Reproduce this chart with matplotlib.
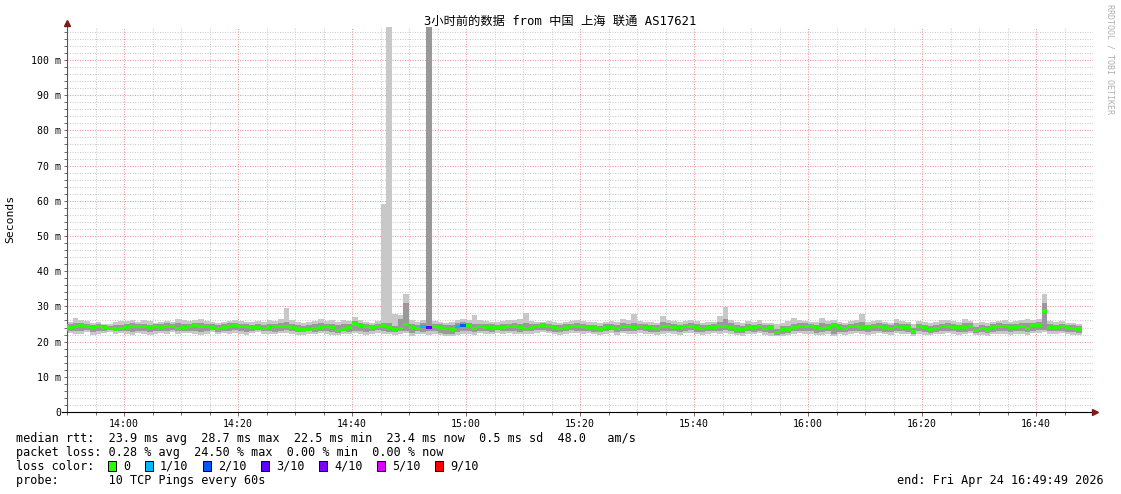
import numpy as np
import matplotlib
matplotlib.use("Agg")
import matplotlib.pyplot as plt
from matplotlib.patches import Rectangle

# 1-minute steps from 13:50 to ~16:48 (values in ms)
median = [
    24.0, 24.3, 24.5, 24.4, 24.1, 24.2, 23.9, 23.8, 23.6, 23.7,
    24.1, 24.4, 24.3, 24.2, 23.9, 24.3, 24.0, 24.4, 24.2, 23.8,
    24.0, 24.2, 24.5, 24.4, 24.3, 24.0, 23.7, 24.1, 24.3, 24.6,
    24.4, 24.2, 23.9, 24.1, 23.8, 24.0, 24.2, 24.3, 24.4, 24.1,
    23.6, 23.3, 23.5, 23.8, 24.0, 24.2, 23.9, 23.1, 23.6, 24.1,
    25.0, 24.6, 24.3, 23.9, 24.2, 24.6, 24.1, 23.4, 23.8, 24.9,
    24.0, 23.7, 24.2, 24.0, 24.3, 24.1, 23.8, 23.5, 24.3, 24.6,
    24.5, 23.8, 24.2, 24.0, 24.1, 23.9, 24.0, 24.2, 24.3, 24.0,
    23.8, 24.1, 24.3, 24.5, 24.2, 24.0, 23.7, 24.1, 24.3, 24.4,
    24.2, 24.0, 23.9, 23.6, 24.1, 24.0, 23.8, 24.4, 24.2, 24.0,
    24.3, 24.1, 24.0, 23.8, 24.2, 24.4, 24.1, 23.9, 24.2, 24.3,
    24.0, 23.7, 23.9, 24.0, 24.2, 24.4, 24.1, 23.6, 23.5, 24.1,
    24.0, 24.3, 23.7, 23.9, 22.5, 23.4, 23.6, 24.1, 24.3, 24.4,
    24.2, 24.0, 23.8, 24.1, 24.5, 24.0, 23.8, 24.2, 24.4, 24.1,
    23.9, 24.2, 24.3, 24.0, 23.7, 24.4, 24.1, 24.0, 22.9, 24.3,
    23.9, 23.4, 23.8, 24.2, 24.3, 24.1, 23.9, 24.0, 24.4, 23.2,
    23.8, 23.3, 24.0, 24.3, 24.2, 24.0, 24.1, 24.3, 23.7, 24.5,
    24.7, 28.7, 24.1, 24.0, 24.3, 24.0, 23.8, 23.6,
]
smoke_lo = [
    22.4, 22.1, 22.3, 22.6, 22.0, 22.2, 22.5, 22.7, 22.3, 22.4,
    22.2, 22.0, 22.4, 22.3, 21.8, 22.1, 22.5, 22.2, 22.6, 22.3,
    22.4, 22.5, 22.2, 22.0, 22.3, 22.6, 22.1, 22.4, 22.2, 22.5,
    22.3, 22.0, 22.4, 22.6, 22.2, 22.3, 22.1, 22.4, 22.5, 22.2,
    22.0, 21.9, 22.3, 22.1, 22.4, 22.2, 22.0, 21.8, 22.3, 22.1,
    22.4, 22.3, 22.0, 22.2, 22.5, 22.3, 22.1, 22.0, 22.2, 22.4,
    21.7, 22.3, 22.1, 22.0, 22.2, 21.8, 21.5, 21.6, 21.9, 22.3,
    22.2, 22.0, 22.4, 22.3, 22.1, 22.5, 22.2, 22.4, 22.3, 22.1,
    22.3, 22.2, 22.5, 22.6, 22.4, 22.1, 22.0, 22.3, 22.5, 22.4,
    22.2, 22.4, 22.1, 21.9, 22.3, 22.5, 22.0, 22.4, 22.2, 22.3,
    22.5, 22.3, 22.1, 21.9, 22.2, 22.4, 22.3, 22.0, 22.4, 22.5,
    22.1, 21.9, 22.2, 22.4, 22.3, 22.5, 22.2, 21.8, 21.7, 22.3,
    22.1, 22.4, 21.9, 21.6, 21.7, 21.5, 21.8, 22.2, 22.4, 22.3,
    22.2, 21.8, 21.9, 22.3, 21.5, 22.1, 22.0, 22.3, 22.4, 22.2,
    22.0, 22.3, 22.4, 22.1, 21.9, 22.4, 22.2, 22.1, 21.7, 22.3,
    22.0, 21.8, 22.1, 22.3, 22.4, 22.2, 22.0, 22.1, 22.4, 21.8,
    22.0, 21.7, 22.1, 22.3, 22.2, 22.0, 22.2, 22.3, 21.9, 22.4,
    22.5, 22.6, 22.3, 22.2, 22.4, 22.1, 21.9, 21.8,
]
smoke_hi = [
    25.6, 26.6, 26.2, 25.8, 25.4, 25.5, 25.0, 24.9, 25.6, 25.8,
    25.9, 26.0, 25.7, 26.1, 25.8, 25.4, 25.6, 25.9, 25.7, 26.3,
    26.0, 25.8, 26.2, 26.4, 25.9, 25.6, 25.3, 25.7, 25.9, 26.2,
    25.8, 25.5, 25.6, 25.9, 25.7, 26.0, 25.8, 26.3, 29.5, 26.0,
    25.6, 25.4, 25.5, 25.8, 26.3, 25.9, 26.0, 25.5, 26.2, 25.9,
    27.0, 26.0, 25.7, 25.3, 25.8, 59.0, 120.0, 27.8, 27.5, 33.5,
    26.0, 25.6, 26.2, 120.0, 25.9, 25.5, 25.3, 25.7, 26.1, 26.5,
    26.0, 27.5, 26.2, 25.8, 25.6, 25.5, 25.9, 26.0, 26.2, 26.4,
    28.1, 25.9, 25.7, 25.5, 25.8, 25.6, 25.4, 25.7, 25.9, 26.0,
    25.8, 25.6, 25.5, 25.2, 25.7, 25.9, 25.5, 26.3, 26.0, 27.8,
    25.8, 25.6, 25.5, 25.4, 27.3, 26.2, 25.8, 25.5, 25.9, 26.1,
    25.8, 25.4, 25.6, 25.7, 27.3, 29.8, 26.1, 25.6, 25.4, 25.9,
    25.6, 26.0, 25.4, 25.2, 24.9, 25.3, 25.8, 26.6, 26.0, 25.9,
    25.7, 25.5, 26.7, 25.9, 26.1, 25.6, 25.4, 25.8, 26.0, 27.8,
    25.7, 25.9, 26.1, 25.6, 25.3, 26.5, 25.8, 25.7, 25.0, 25.8,
    25.5, 25.3, 25.6, 26.0, 26.2, 25.9, 25.6, 26.3, 25.8, 25.4,
    25.6, 25.2, 25.7, 25.9, 26.0, 25.6, 25.8, 26.2, 26.4, 26.0,
    26.3, 33.5, 25.8, 25.5, 25.9, 25.4, 25.3, 25.1,
]
mid_lo = [
    23.0, 22.9, 23.1, 23.2, 22.8, 23.0, 23.1, 23.2, 22.9, 23.0,
    22.9, 22.8, 23.1, 23.0, 22.6, 22.9, 23.1, 23.0, 23.2, 22.9,
    23.0, 23.1, 22.9, 22.8, 23.0, 23.2, 22.8, 23.0, 22.9, 23.2,
    23.0, 22.8, 23.1, 23.2, 22.9, 23.0, 22.8, 23.1, 23.2, 22.9,
    22.7, 22.6, 23.0, 22.8, 23.1, 22.9, 22.7, 22.5, 23.0, 22.8,
    23.1, 23.0, 22.8, 22.9, 23.2, 23.0, 22.8, 22.7, 22.9, 23.1,
    22.5, 23.0, 22.8, 22.9, 22.9, 22.5, 22.3, 22.3, 22.6, 23.0,
    22.9, 22.7, 23.1, 23.0, 22.8, 23.2, 22.9, 23.1, 23.0, 22.8,
    23.0, 22.9, 23.2, 23.3, 23.1, 22.8, 22.7, 23.0, 23.2, 23.1,
    22.9, 23.1, 22.8, 22.6, 23.0, 23.2, 22.7, 23.1, 22.9, 23.0,
    23.2, 23.0, 22.8, 22.6, 22.9, 23.1, 23.0, 22.7, 23.1, 23.2,
    22.8, 22.6, 22.9, 23.1, 23.0, 23.2, 22.9, 22.5, 22.4, 23.0,
    22.8, 23.1, 22.6, 22.4, 22.0, 22.3, 22.5, 22.9, 23.1, 23.0,
    22.9, 22.5, 22.6, 23.0, 22.3, 22.8, 22.7, 23.0, 23.1, 22.9,
    22.7, 23.0, 23.1, 22.8, 22.6, 23.1, 22.9, 22.8, 22.3, 23.0,
    22.7, 22.5, 22.8, 23.0, 23.1, 22.9, 22.7, 22.8, 23.1, 22.5,
    22.7, 22.4, 22.8, 23.0, 22.9, 22.7, 22.9, 23.0, 22.6, 23.1,
    23.2, 23.3, 23.0, 22.9, 23.1, 22.8, 22.6, 22.5,
]
mid_hi = [
    24.9, 25.2, 25.3, 25.1, 24.8, 24.9, 24.6, 24.5, 24.6, 24.7,
    25.0, 25.2, 25.0, 25.1, 24.8, 25.0, 24.9, 25.2, 25.0, 25.3,
    25.1, 25.0, 25.3, 25.4, 25.1, 24.9, 24.7, 24.9, 25.2, 25.4,
    25.1, 24.9, 24.8, 25.0, 24.8, 25.1, 25.0, 25.2, 25.6, 25.0,
    24.7, 24.5, 24.6, 24.9, 25.2, 25.0, 25.1, 24.6, 25.0, 25.0,
    25.9, 25.3, 25.0, 24.8, 25.0, 25.4, 25.2, 24.5, 26.5, 31.0,
    24.9, 24.6, 25.2, 120.0, 25.1, 24.9, 24.7, 24.6, 25.3, 25.6,
    25.3, 24.9, 25.1, 24.9, 24.9, 24.8, 25.0, 25.1, 25.2, 24.9,
    25.3, 24.9, 25.1, 25.3, 25.0, 24.8, 24.6, 24.9, 25.1, 25.2,
    25.0, 24.8, 24.8, 24.5, 24.9, 25.0, 24.7, 25.3, 25.1, 25.2,
    25.1, 24.9, 24.8, 24.7, 25.5, 25.4, 25.0, 24.8, 25.1, 25.2,
    24.9, 24.6, 24.8, 25.0, 25.6, 26.5, 25.2, 24.6, 24.5, 24.9,
    24.8, 25.1, 24.6, 24.7, 23.6, 24.3, 24.5, 25.1, 25.2, 25.2,
    25.0, 24.8, 25.3, 24.9, 25.3, 24.9, 24.6, 25.0, 25.3, 25.6,
    24.8, 25.1, 25.2, 24.9, 24.6, 25.4, 25.0, 24.9, 24.0, 25.1,
    24.8, 24.4, 24.8, 25.1, 25.3, 25.0, 24.8, 25.2, 25.3, 24.2,
    24.7, 24.3, 24.9, 25.2, 25.1, 24.9, 25.0, 25.3, 25.3, 25.3,
    25.6, 31.0, 25.0, 24.8, 25.1, 24.8, 24.6, 24.4,
]
loss_steps = [62, 63, 68, 69]
loss_levels = [1, 3, 1, 2]

loss_labels = ["0", "1/10", "2/10", "3/10", "4/10", "5/10", "9/10"]
loss_colors = ["#26ff00", "#00b8ff", "#0059ff", "#5e00ff", "#7e00ff", "#dd00ff", "#ff0000"]
x_ticks = ["14:00", "14:20", "14:40", "15:00", "15:20", "15:40", "16:00", "16:20", "16:40"]
y_ticks = [0, 10, 20, 30, 40, 50, 60, 70, 80, 90, 100]

W, H = 1121, 494
MONO = "DejaVu Sans Mono"


def fx(px):
    return px / W


def fy(py):
    return 1 - py / H


fig = plt.figure(figsize=(W / 100, H / 100), dpi=100)
ax = fig.add_axes([fx(67), fy(412), fx(1093 - 67), (412 - 27) / H])
ymax = (412 - 27) / 3.52
ax.set_xlim(0, 180)
ax.set_ylim(0, ymax)

# grid
for v in np.arange(2, ymax, 2):
    major = abs(v % 10) < 1e-6
    ax.axhline(v, color="#e89a9a" if major else "#cccccc", lw=0.75,
               ls=(0, (1, 1.4)), zorder=0)
for m in range(5, 180, 5):
    major = (m - 10) % 20 == 0
    ax.axvline(m, color="#e89a9a" if major else "#cccccc", lw=0.75,
               ls=(0, (1, 1.4)), zorder=0)

n = len(median)
edges = np.arange(n + 1)
med = np.array(median)
ax.stairs(smoke_hi, edges, baseline=smoke_lo, fill=True, color="#c8c8c8", lw=0, zorder=2)
ax.stairs(mid_hi, edges, baseline=mid_lo, fill=True, color="#999999", lw=0, zorder=3)

cols = [loss_colors[0]] * n
for s, lv in zip(loss_steps, loss_levels):
    cols[s] = loss_colors[lv]
ax.bar(np.arange(n), 0.9, bottom=med - 0.45, width=1, align="edge",
       color=cols, lw=0, antialiased=False, zorder=4)

# axes styling
for s in ["top", "right"]:
    ax.spines[s].set_visible(False)
ax.spines["left"].set_color("#555555")
ax.spines["left"].set_linewidth(0.8)
ax.spines["bottom"].set_color("black")
ax.spines["bottom"].set_linewidth(0.8)

ax.set_yticks(y_ticks)
ax.set_yticklabels([f"{v} m" if v else "0" for v in y_ticks], fontsize=7.1, family=MONO)
ax.set_yticks(np.arange(0, ymax, 2), minor=True)
ax.set_xticks(np.arange(10, 180, 20))
ax.set_xticklabels(x_ticks, fontsize=7.1, family=MONO)
ax.set_xticks(np.arange(0, 180, 5), minor=True)
ax.tick_params(which="both", direction="out", length=2, width=0.6, color="#555555", pad=2)
ax.tick_params(axis="x", which="major", length=3)

# axis arrows
fig.add_artist(plt.Line2D([fx(67)], [fy(23)], marker="^", ms=4, color="#7f1a1a"))
fig.add_artist(plt.Line2D([fx(1095)], [fy(412)], marker=">", ms=4, color="#7f1a1a"))
fig.add_artist(plt.Line2D([fx(62), fx(67)], [fy(412), fy(412)], color="black", lw=0.8))

fig.text(fx(560), fy(21), "3小时前的数据 from 中国 上海 联通 AS17621", ha="center", va="center",
         fontsize=8.8, family=[MONO, "Noto Sans CJK SC"])
fig.text(fx(10), fy(219), "Seconds", rotation=90, ha="center", va="center",
         fontsize=8.2, family=MONO)
fig.text(fx(1110), fy(4), "RRDTOOL / TOBI OETIKER", rotation=270, ha="center", va="top",
         fontsize=6, family=MONO, color="#b0b0b0")

fs = 8.5
fig.text(fx(16), fy(438), "median rtt:  23.9 ms avg  28.7 ms max  22.5 ms min  23.4 ms now  0.5 ms sd  48.0   am/s",
         fontsize=fs, family=MONO, va="center")
fig.text(fx(16), fy(452), "packet loss: 0.28 % avg  24.50 % max  0.00 % min  0.00 % now",
         fontsize=fs, family=MONO, va="center")
fig.text(fx(16), fy(466), "loss color:", fontsize=fs, family=MONO, va="center")
box_x = [108, 145, 203, 261, 319, 377, 435]
for bx, lab, c in zip(box_x, loss_labels, loss_colors):
    fig.add_artist(Rectangle((fx(bx), fy(471)), fx(8), 10 / H, facecolor=c,
                             edgecolor="black", lw=0.7))
    fig.text(fx(bx + 15), fy(466), lab, fontsize=fs, family=MONO, va="center")
fig.text(fx(16), fy(480), "probe:       10 TCP Pings every 60s", fontsize=fs, family=MONO, va="center")
fig.text(fx(1104), fy(480), "end: Fri Apr 24 16:49:49 2026", fontsize=fs, family=MONO,
         va="center", ha="right")

fig.savefig("out.png", dpi=100)
